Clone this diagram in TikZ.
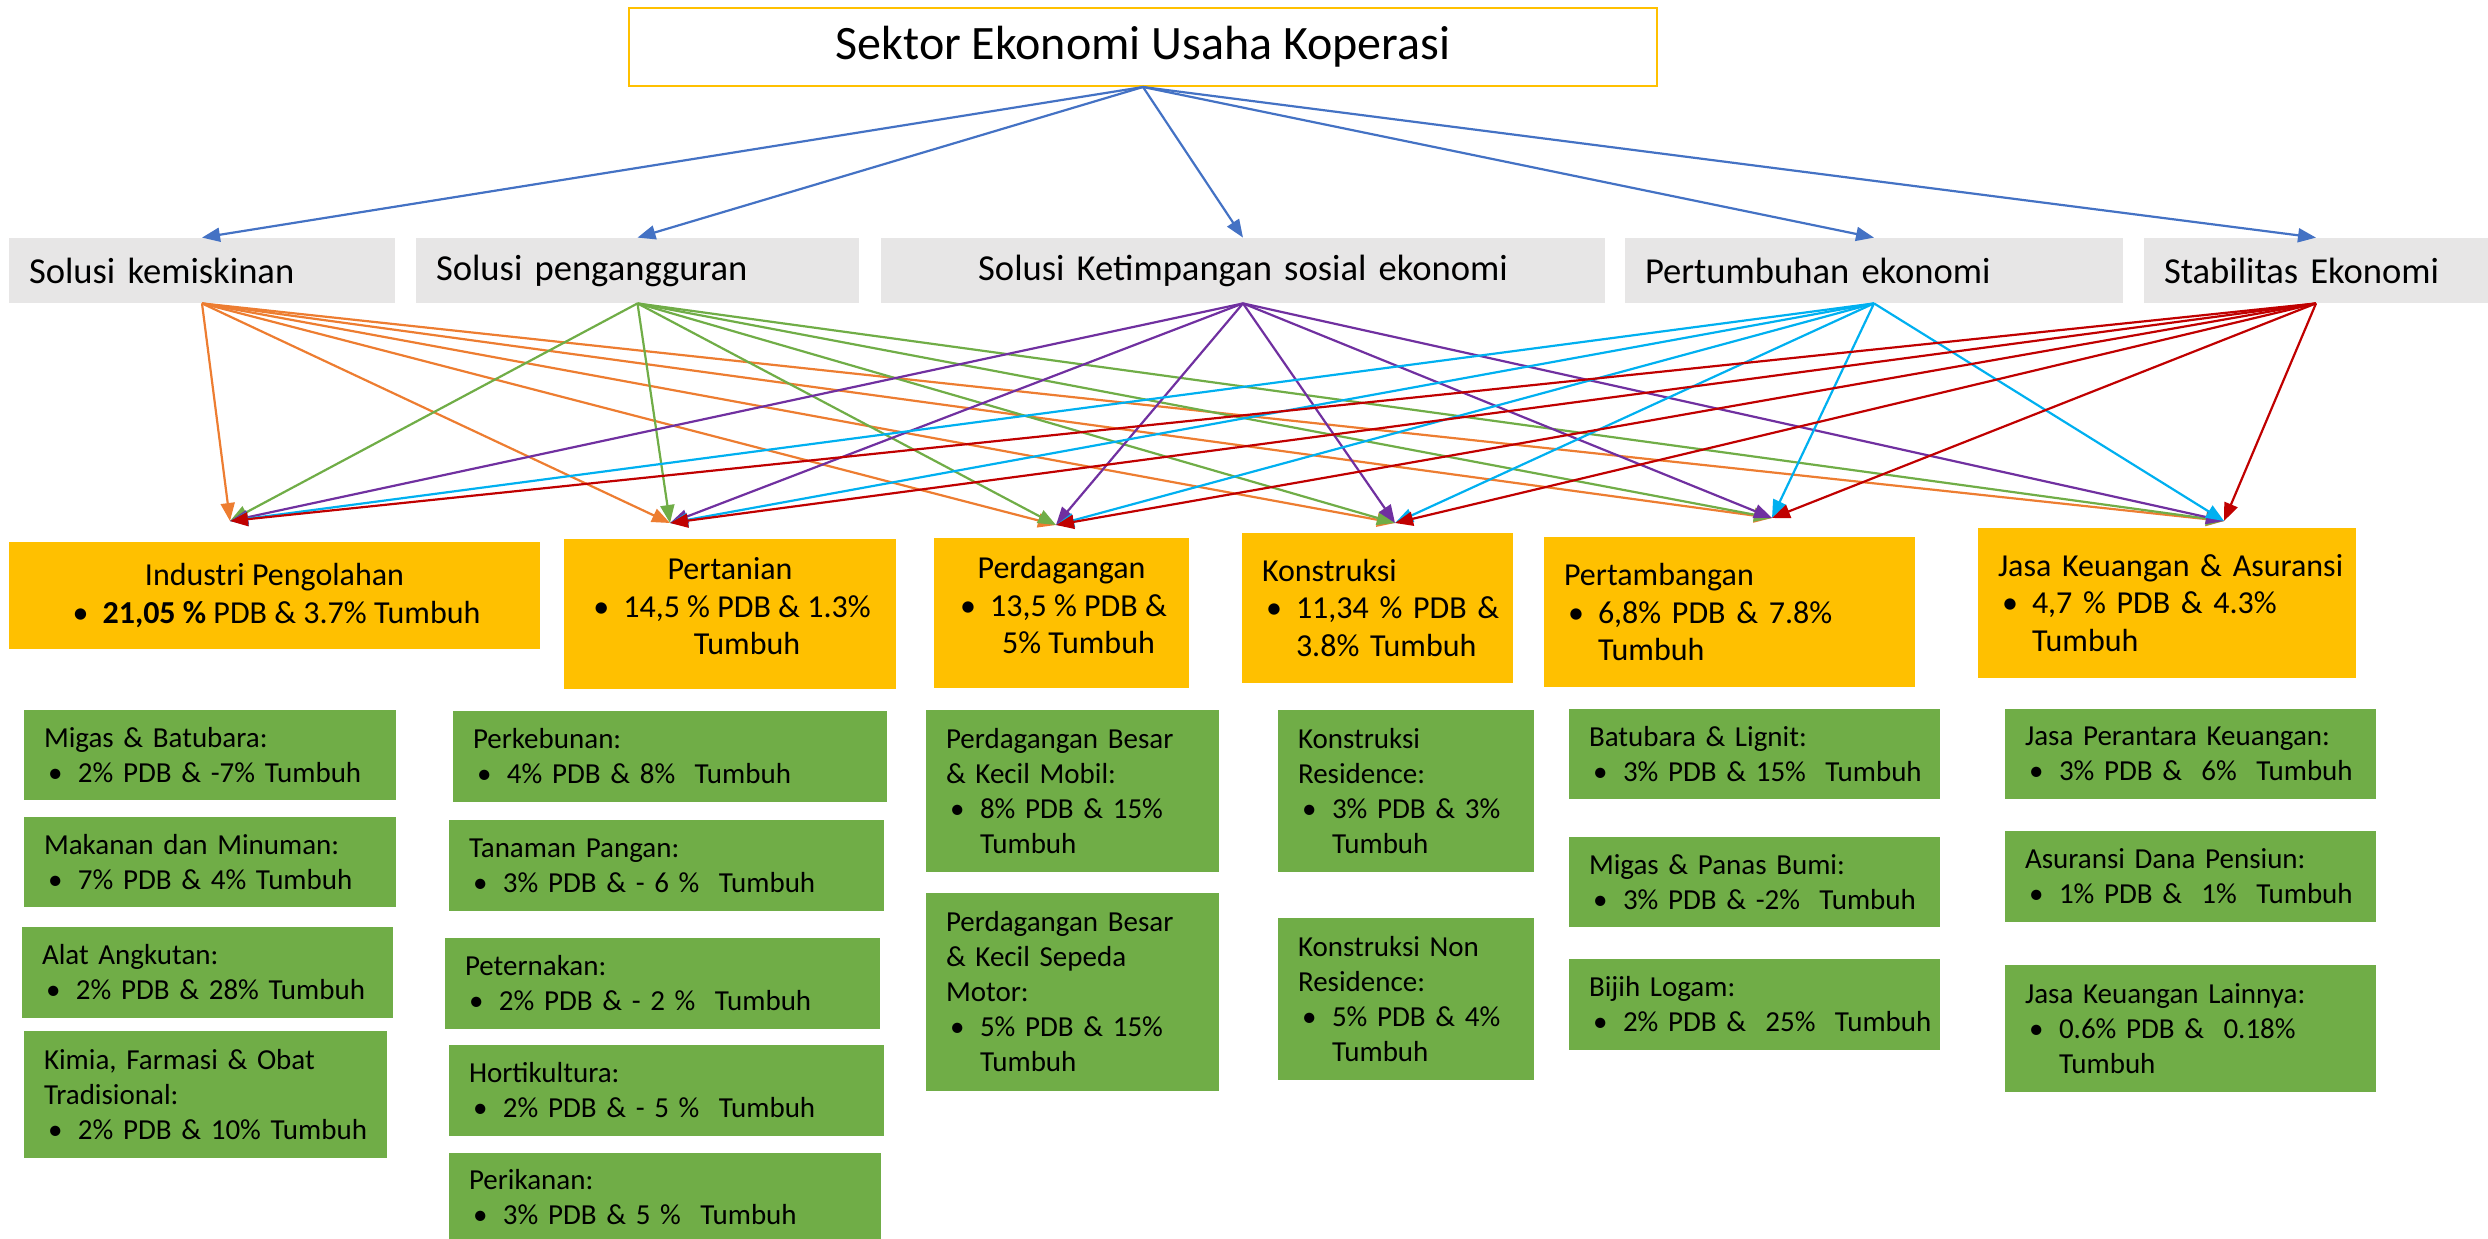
\documentclass[tikz,border=0pt]{standalone}
\usepackage{fontspec}
\setmainfont{Carlito}
\usetikzlibrary{arrows.meta,positioning}

\definecolor{gold}{HTML}{FFC000}
\definecolor{lightgrey}{HTML}{E7E6E6}
\definecolor{leaf}{HTML}{70AD47}
\definecolor{steel}{HTML}{4472C4}
\definecolor{tangerine}{HTML}{ED7D31}
\definecolor{grape}{HTML}{7030A0}
\definecolor{sky}{HTML}{00B0F0}
\definecolor{crimson}{HTML}{C00000}

\newcommand{\bul}{\makebox[17pt][l]{\hspace{2pt}\textbullet}}
\newcommand{\nobul}{\hphantom{\bul}}
\newcommand{\itm}[1]{\mbox{\bul#1}}

\tikzset{
    head/.style =   {rectangle,
                    fill=white,
                    draw=gold,
                    line width=1pt,
                    text=black,
                    font=\fontsize{24}{28}\selectfont,
                    inner sep=0pt},
    goal/.style =   {rectangle,
                    fill=lightgrey,
                    text=black,
                    font=\fontsize{18.3}{22}\selectfont,
                    inner xsep=10pt,
                    inner ysep=0pt,
                    minimum height=32.5pt,
                    align=left},
    sector/.style = {rectangle,
                    fill=gold,
                    text=black,
                    font=\fontsize{16}{18.8}\selectfont,
                    inner xsep=10pt,
                    inner ysep=0pt,
                    minimum height=75pt},
    sub/.style =    {rectangle,
                    fill=leaf,
                    text=black,
                    font=\fontsize{14.5}{17.5}\selectfont,
                    inner xsep=10pt,
                    inner ysep=0pt,
                    minimum height=45pt,
                    align=left},
    link/.style =   {line width=1.1pt},
    >={Triangle[length=9pt,width=7pt]}}

\begin{document}
\begin{tikzpicture}[x=0.5pt,y=-0.5pt]
    \useasboundingbox (0,0) rectangle (2488,1238);
    % judul
    \node[head, minimum width=514pt, minimum height=39pt] (T) at (1143,47) {Sektor Ekonomi Usaha Koperasi};
    % solusi
    \node[goal, text width=173pt]               (S1) at (202,270.5)  {Solusi kemiskinan};
    \node[goal, text width=201.5pt]             (S2) at (637.5,270.5) {Solusi pengangguran};
    \node[goal, text width=342pt, align=center] (S3) at (1243,270.5) {Solusi Ketimpangan sosial ekonomi};
    \node[goal, text width=229pt]               (S4) at (1874,270.5) {Pertumbuhan ekonomi};
    \node[goal, text width=152pt]               (S5) at (2316,270.5) {Stabilitas Ekonomi};
    % sektor
    \node[sector, minimum width=265.5pt, minimum height=53.5pt, align=center] (B1) at (274.5,595.5)
        {Industri Pengolahan\\ \itm{\textbf{21,05 \%} PDB \& 3.7\% Tumbuh}};
    \node[sector, minimum width=166pt, align=center, text depth=8pt] (B2) at (730,614)
        {Pertanian\\ \itm{14,5 \% PDB \& 1.3\%}\\ \nobul Tumbuh};
    \node[sector, minimum width=127.5pt, align=center, text depth=8pt] (B3) at (1061.5,613)
        {Perdagangan\\ \itm{13,5 \% PDB \&}\\ \nobul 5\% Tumbuh};
    \node[sector, text width=115.5pt, align=left] (B4) at (1377.5,608)
        {Konstruksi\\ \itm{11,34 \% PDB \&}\\ \nobul 3.8\% Tumbuh};
    \node[sector, text width=165.5pt, align=left] (B5) at (1729.5,612)
        {Pertambangan\\ \itm{6,8\% PDB \& 7.8\%}\\ \nobul Tumbuh};
    \node[sector, text width=169pt, align=left] (B6) at (2167,603)
        {\mbox{Jasa Keuangan \& Asuransi}\\ \itm{4,7 \% PDB \& 4.3\%}\\ \nobul Tumbuh};
    % rincian
    \node[sub, text width=166pt] (B1a) at (210,755) {Migas \& Batubara:\\ \itm{2\% PDB \& -7\% Tumbuh}};
    \node[sub, text width=166pt] (B1b) at (210,862) {Makanan dan Minuman:\\ \itm{7\% PDB \& 4\% Tumbuh}};
    \node[sub, text width=165.5pt, minimum height=45.5pt] (B1c) at (207.5,972.5) {Alat Angkutan:\\ \itm{2\% PDB \& 28\% Tumbuh}};
    \node[sub, text width=161.5pt, minimum height=63.5pt] (B1d) at (205.5,1094.5) {Kimia, Farmasi \& Obat\\ Tradisional:\\ \itm{2\% PDB \& 10\% Tumbuh}};

    \node[sub, text width=197pt, minimum height=45.5pt] (B2a) at (670,756.5) {Perkebunan:\\ \itm{4\% PDB \& 8\%\ \ Tumbuh}};
    \node[sub, text width=197.5pt, minimum height=45.5pt] (B2b) at (666.5,865.5) {Tanaman Pangan:\\ \itm{3\% PDB \& - 6 \%\ \ Tumbuh}};
    \node[sub, text width=197.5pt, minimum height=45.5pt] (B2c) at (662.5,983.5) {Peternakan:\\ \itm{2\% PDB \& - 2 \%\ \ Tumbuh}};
    \node[sub, text width=197.5pt, minimum height=45.5pt] (B2d) at (666.5,1090.5) {Hortikultura:\\ \itm{2\% PDB \& - 5 \%\ \ Tumbuh}};
    \node[sub, text width=196pt, minimum height=44.5pt] (B2e) at (665,1197.5) {Perikanan:\\ \itm{3\% PDB \& 5 \%\ \ Tumbuh}};

    \node[sub, text width=126.5pt, minimum height=81pt] (B3a) at (1072.5,791)
        {Perdagangan Besar\\ \& Kecil Mobil:\\ \itm{8\% PDB \& 15\%}\\ \nobul Tumbuh};
    \node[sub, text width=126.5pt, minimum height=99pt] (B3b) at (1072.5,992)
        {Perdagangan Besar\\ \& Kecil Sepeda\\ Motor:\\ \itm{5\% PDB \& 15\%}\\ \nobul Tumbuh};

    \node[sub, text width=108pt, minimum height=81pt] (B4a) at (1406,791)
        {Konstruksi\\ Residence:\\ \itm{3\% PDB \& 3\%}\\ \nobul Tumbuh};
    \node[sub, text width=108pt, minimum height=81pt] (B4b) at (1406,999)
        {Konstruksi Non\\ Residence:\\ \itm{5\% PDB \& 4\%}\\ \nobul Tumbuh};

    \node[sub, text width=165.5pt] (B5a) at (1754.5,754) {Batubara \& Lignit:\\ \itm{3\% PDB \& 15\%\ \ Tumbuh}};
    \node[sub, text width=165.5pt] (B5b) at (1754.5,882) {Migas \& Panas Bumi:\\ \itm{3\% PDB \& -2\%\ \ Tumbuh}};
    \node[sub, text width=165.5pt, minimum height=45.5pt] (B5c) at (1754.5,1004.5) {Bijih Logam:\\ \itm{2\% PDB \&\ \ 25\%\ \ Tumbuh}};

    \node[sub, text width=165.5pt] (B6a) at (2190.5,754) {Jasa Perantara Keuangan:\\ \itm{3\% PDB \&\ \ 6\%\ \ Tumbuh}};
    \node[sub, text width=165.5pt, minimum height=45.5pt] (B6b) at (2190.5,876.5) {Asuransi Dana Pensiun:\\ \itm{1\% PDB \&\ \ 1\%\ \ Tumbuh}};
    \node[sub, text width=165.5pt, minimum height=63.5pt] (B6c) at (2190.5,1028.5)
        {Jasa Keuangan Lainnya:\\ \itm{0.6\% PDB \&\ \ 0.18\%}\\ \nobul Tumbuh};

    % ujung panah
    \coordinate (t1) at (230,521);
    \coordinate (t2) at (670,523);
    \coordinate (t3) at (1056,525);
    \coordinate (t4) at (1395,523);
    \coordinate (t5) at (1772,518);
    \coordinate (t6) at (2224,521);

    \path [link,steel,->]   (T.south) edge (S1.north) edge (S2.north) edge (S3.north)
                                      edge (S4.north) edge (S5.north);
    \path [link,tangerine,->] (S1.south) edge (t1) edge (t2) edge (t3) edge (t4) edge (t5) edge (t6);
    \path [link,leaf,->]    (S2.south) edge (t1) edge (t2) edge (t3) edge (t4) edge (t5) edge (t6);
    \path [link,grape,->]   (S3.south) edge (t1) edge (t2) edge (t3) edge (t4) edge (t5) edge (t6);
    \path [link,sky,->]     (S4.south) edge (t1) edge (t2) edge (t3) edge (t4) edge (t5) edge (t6);
    \path [link,crimson,->] (S5.south) edge (t1) edge (t2) edge (t3) edge (t4) edge (t5) edge (t6);
\end{tikzpicture}
\end{document}
